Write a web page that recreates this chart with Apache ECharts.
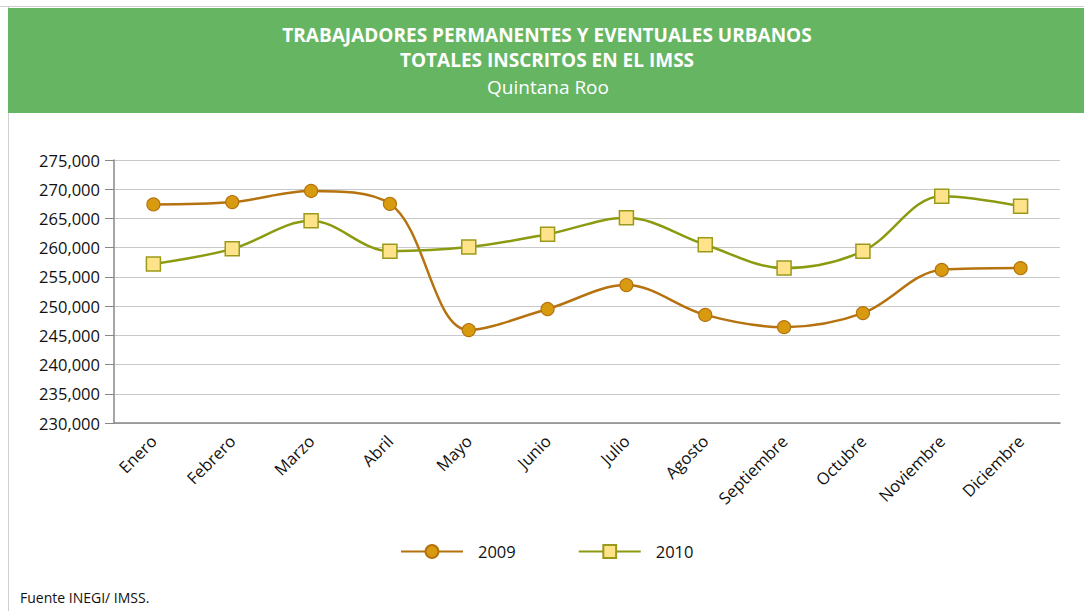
<!DOCTYPE html>
<html><head><meta charset="utf-8">
<script src="https://cdn.jsdelivr.net/npm/echarts@6/dist/echarts.min.js"></script>
<style>html,body{margin:0;padding:0;background:#fff}#c{width:1084px;height:611px}</style>
</head><body><div id="c"></div>
<script>
const categories = ['Enero','Febrero','Marzo','Abril','Mayo','Junio','Julio','Agosto','Septiembre','Octubre','Noviembre','Diciembre'];
const values2009 = [267400,267800,269700,267500,245900,249500,253600,248500,246400,248800,256200,256500];
const values2010 = [257200,259800,264600,259400,260100,262300,265100,260500,256500,259400,268800,267100];
const yTicks = {min:230000, max:275000, interval:5000};
const titleLines = ['TRABAJADORES PERMANENTES Y EVENTUALES URBANOS','TOTALES INSCRITOS EN EL IMSS'];
const subtitle = 'Quintana Roo';
const source = 'Fuente INEGI/ IMSS.';

const FONT = '"Open Sans", "Noto Sans", sans-serif';
const chart = echarts.init(document.getElementById('c'), null, {renderer:'svg'});
chart.setOption({
  animation:false,
  textStyle:{fontFamily:FONT},
  graphic:[
    {type:'rect', shape:{x:0,y:6,width:1084,height:1}, style:{fill:'#d0d0d0'}},
    {type:'rect', shape:{x:8,y:6,width:1,height:605}, style:{fill:'#d0d0d0'}},
    {type:'rect', shape:{x:8,y:8,width:1076,height:105}, style:{fill:'#66b562'}},
    {type:'text', x:547, y:35, style:{text:titleLines[0], fill:'#fff', font:'bold 19px '+FONT, textAlign:'center', textVerticalAlign:'middle'}},
    {type:'text', x:547, y:60, style:{text:titleLines[1], fill:'#fff', font:'bold 19px '+FONT, textAlign:'center', textVerticalAlign:'middle'}},
    {type:'text', x:548, y:87, style:{text:subtitle, fill:'#fff', font:'19px '+FONT, textAlign:'center', textVerticalAlign:'middle'}},
    {type:'text', x:20, y:597, style:{text:source, fill:'#111', font:'14px '+FONT, textAlign:'left', textVerticalAlign:'middle'}}
  ],
  grid:{left:114, right:24, top:160, bottom:188},
  legend:{
    bottom:46, left:395, itemWidth:62, itemHeight:16, itemGap:62,
    textStyle:{fontSize:16.5, color:'#111', fontFamily:FONT, padding:[0,0,0,10]},
    data:['2009','2010']
  },
  xAxis:{
    type:'category', data:categories, boundaryGap:true,
    axisLine:{lineStyle:{color:'#888', width:1.5}},
    axisTick:{show:false},
    axisLabel:{rotate:45, fontSize:16.5, color:'#111', margin:15, interval:0}
  },
  yAxis:{
    type:'value', min:yTicks.min, max:yTicks.max, interval:yTicks.interval,
    axisLine:{show:true, lineStyle:{color:'#888', width:1.5}},
    axisTick:{show:true, length:9, lineStyle:{color:'#888'}},
    splitLine:{lineStyle:{color:'#c8c8c8', width:1.2}},
    axisLabel:{fontSize:16.5, color:'#111', margin:14, formatter:v=>v.toLocaleString('en-US')}
  },
  series:[
    {name:'2009', type:'line', data:values2009, smooth:0.35, symbol:'circle', symbolSize:13,
     lineStyle:{color:'#b5720f', width:2.5},
     itemStyle:{color:'#d89a0f', borderColor:'#b5720f', borderWidth:1.2}},
    {name:'2010', type:'line', data:values2010, smooth:0.35, symbol:'rect', symbolSize:14,
     lineStyle:{color:'#8c9a10', width:2.5},
     itemStyle:{color:'#ffe38a', borderColor:'#9a9a1a', borderWidth:1.5}}
  ]
});
</script></body></html>
